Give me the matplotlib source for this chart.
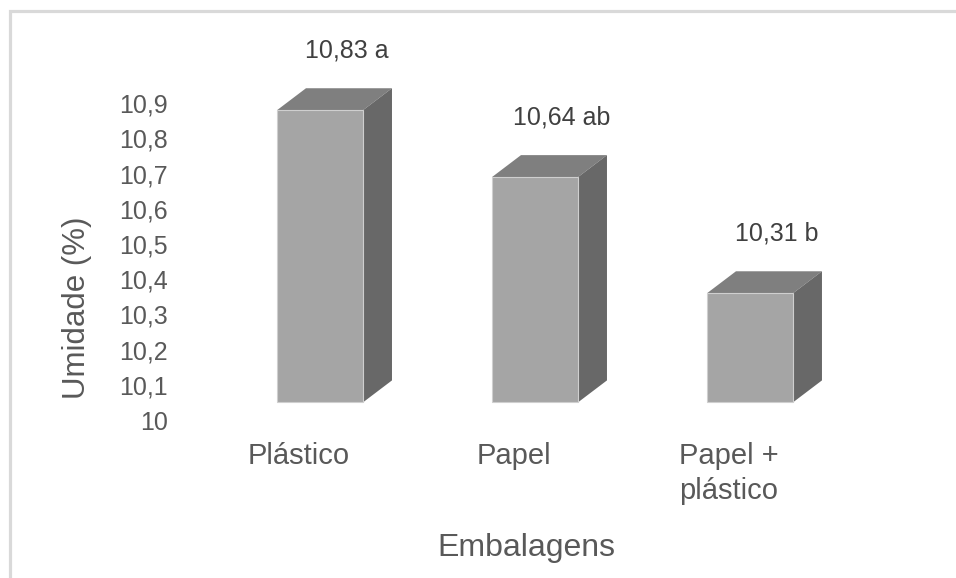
# moisture of the samples by packaging type, excel-style 3d columns
import matplotlib.pyplot as plt
from matplotlib.patches import Polygon, Rectangle

plt.rcParams['font.family'] = ['Liberation Sans', 'DejaVu Sans']

embalagens = ["Plástico", "Papel", "Papel +\nplástico"]
umidade = [10.83, 10.64, 10.31]
letras = ["a", "ab", "b"]
yticks = [10.0, 10.1, 10.2, 10.3, 10.4, 10.5, 10.6, 10.7, 10.8, 10.9]
ytick_labels = ["10", "10,1", "10,2", "10,3", "10,4", "10,5", "10,6", "10,7", "10,8", "10,9"]

# look of the fake 3d boxes
w = 0.40        # front face width
dx, dy = 0.135, 0.0625   # depth offset
lift = 0.05     # excel draws the floor a bit above the axis start
c_front, c_top, c_side = "#a5a5a5", "#7f7f7f", "#686868"

fig = plt.figure(figsize=(9.56, 5.78), dpi=100)
fig.patch.set_facecolor("white")
ax = fig.add_axes([180/956, 1 - 420/578, 760/956, 352/578])
ax.set_xlim(-0.651, 2.884)
ax.set_ylim(10, 11)
for s in ax.spines.values():
    s.set_visible(False)

for i, (v, let) in enumerate(zip(umidade, letras)):
    x0, x1 = i - w/2, i + w/2
    y0, y1 = 10 + lift, v + lift
    ax.add_patch(Polygon([(x0, y1), (x1, y1), (x1+dx, y1+dy), (x0+dx, y1+dy)],
                         closed=True, fc=c_top, ec="none"))
    ax.add_patch(Polygon([(x1, y0), (x1+dx, y0+dy), (x1+dx, y1+dy), (x1, y1)],
                         closed=True, fc=c_side, ec="none"))
    ax.add_patch(Rectangle((x0, y0), w, y1 - y0, fc=c_front, ec="#cfcfcf", lw=0.8))
    lbl = f"{v:.2f}".replace(".", ",") + " " + let
    ax.text(i + 0.125, y1 + 0.17, lbl, ha="center", va="center",
            fontsize=18, color="#404040")

ax.set_yticks(yticks)
ax.set_yticklabels(ytick_labels, fontsize=18, color="#595959")
ax.set_xticks([i - 0.1 for i in range(len(embalagens))])
ax.set_xticklabels(embalagens, fontsize=21, color="#595959", linespacing=1.3)
ax.tick_params(axis="y", length=0, pad=9)
ax.tick_params(axis="x", length=0, pad=16)

fig.text(77/956, 1 - 308/578, "Umidade (%)", rotation=90, ha="center", va="center",
         fontsize=22.5, color="#595959")
fig.text(526/956, 1 - 548/578, "Embalagens", ha="center", va="center",
         fontsize=23, color="#595959")

# light frame of the chart area, running off the right and bottom edges
fig.patches.append(Rectangle((9.5/956, -0.05), 1.1, 1 - 11/578 + 0.05,
                             transform=fig.transFigure, fill=False,
                             ec="#d9d9d9", lw=2.3))

fig.savefig("out.png", dpi=100)
